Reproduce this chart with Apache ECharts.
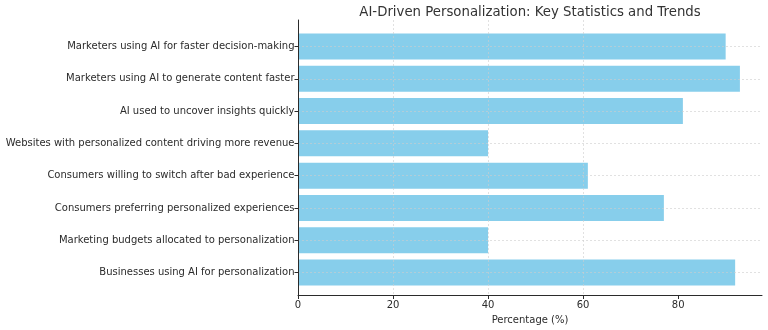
<!DOCTYPE html>
<html>
<head>
<meta charset="utf-8">
<script src="https://cdn.jsdelivr.net/npm/echarts@6/dist/echarts.min.js"></script>
<style>
  html, body { margin: 0; padding: 0; background: #fff; }
  #chart { width: 768px; height: 330px; }
</style>
</head>
<body>
<div id="chart"></div>
<script>
// Statistics shown as horizontal bars, listed top to bottom
const categories = [
  'Marketers using AI for faster decision-making',
  'Marketers using AI to generate content faster',
  'AI used to uncover insights quickly',
  'Websites with personalized content driving more revenue',
  'Consumers willing to switch after bad experience',
  'Consumers preferring personalized experiences',
  'Marketing budgets allocated to personalization',
  'Businesses using AI for personalization'
];
const percentages = [90, 93, 81, 40, 61, 77, 40, 92];
const xTickValues = [0, 20, 40, 60, 80];

const FONT = 'DejaVu Sans';
const TEXT = '#2b2b2b';
const GRID_LINE = { color: 'rgba(205,205,205,0.6)', type: [2, 2], width: 1 };
const xMax = Math.max(...percentages) * 1.05;

const chart = echarts.init(document.getElementById('chart'), null, { renderer: 'canvas' });

chart.setOption({
  animation: false,
  backgroundColor: '#ffffff',
  textStyle: { fontFamily: FONT },
  title: {
    text: 'AI-Driven Personalization: Key Statistics and Trends',
    left: 525,
    top: 1,
    textAlign: 'center',
    textStyle: { fontFamily: FONT, fontSize: 13.3, fontWeight: 'normal', color: '#333333' }
  },
  grid: [
    // plot frame: spines, x ticks, vertical grid lines
    { left: 298, right: 6, top: 20, bottom: 32, containLabel: false },
    // bar area: category centres inset like the frame's margins
    { left: 298, right: 6, top: 46.5, bottom: 57.5, containLabel: false }
  ],
  xAxis: [
    {
      gridIndex: 0,
      type: 'value',
      min: 0,
      max: xMax,
      interval: 20,
      z: 3,
      axisLine: { show: true, lineStyle: { color: TEXT, width: 1 } },
      axisTick: { show: true, length: 4, customValues: xTickValues, lineStyle: { color: TEXT } },
      axisLabel: {
        customValues: xTickValues,
        fontFamily: FONT, fontSize: 10, color: TEXT, margin: 5
      },
      splitLine: { show: true, showMinLine: false, showMaxLine: false, lineStyle: GRID_LINE },
      name: 'Percentage (%)',
      nameLocation: 'middle',
      nameGap: 20,
      nameTextStyle: { fontFamily: FONT, fontSize: 10, color: TEXT }
    },
    {
      gridIndex: 1,
      type: 'value',
      min: 0,
      max: xMax,
      show: false
    }
  ],
  yAxis: [
    {
      gridIndex: 0,
      type: 'value',
      min: 0,
      max: 1,
      z: 3,
      axisLine: { show: true, lineStyle: { color: TEXT, width: 1 } },
      axisTick: { show: false },
      axisLabel: { show: false },
      splitLine: { show: false }
    },
    {
      gridIndex: 1,
      type: 'category',
      data: categories,
      inverse: true,
      boundaryGap: false,
      z: 3,
      axisLine: { show: false },
      axisTick: { show: true, length: 3.5, lineStyle: { color: TEXT } },
      axisLabel: { fontFamily: FONT, fontSize: 10, color: TEXT, margin: 3.5 },
      splitLine: { show: true, lineStyle: GRID_LINE }
    }
  ],
  series: [
    {
      type: 'bar',
      xAxisIndex: 1,
      yAxisIndex: 1,
      data: percentages,
      barWidth: 26,
      clip: false,
      itemStyle: { color: '#87CEEB' }
    }
  ]
});
</script>
</body>
</html>
